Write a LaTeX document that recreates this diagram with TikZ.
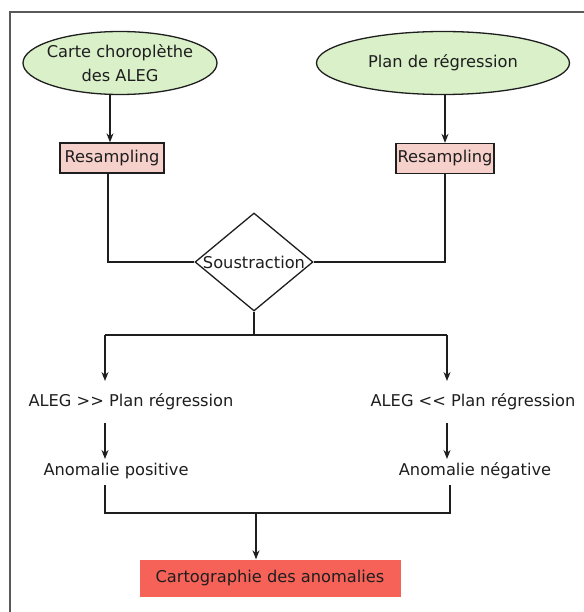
\documentclass[tikz,border=0pt]{standalone}
\usepackage{fontspec}
\setmainfont{DejaVu Sans}
\usetikzlibrary{shapes.geometric,arrows.meta}
\definecolor{ovalfill}{RGB}{218,240,200}
\definecolor{resfill}{RGB}{246,208,202}
\definecolor{finfill}{RGB}{246,98,88}
\definecolor{ink}{RGB}{30,30,30}
\begin{document}
\begin{tikzpicture}[x=1bp,y=-1bp,
  every node/.style={font=\fontsize{16.3}{24}\selectfont, text=ink},
  oval/.style={ellipse, draw=ink, line width=1.3bp, fill=ovalfill, inner sep=0pt},
  resbox/.style={rectangle, draw=ink, line width=1.3bp, fill=resfill, minimum width=104bp, minimum height=30bp, inner sep=0pt},
  dia/.style={diamond, draw=ink, line width=1.3bp, minimum width=118bp, minimum height=98bp, inner sep=0pt},
  plain/.style={inner sep=1bp},
  final/.style={rectangle, fill=finfill, draw=none, minimum width=261bp, minimum height=37bp, inner sep=0pt},
  conn/.style={draw=ink, line width=1.3bp},
  arr/.style={conn, -{Stealth[length=9bp,width=7bp]}}]
\useasboundingbox (0,0) rectangle (584,612);
\coordinate (fa) at (10,612);
\coordinate (fb) at (10,12);
\coordinate (fc) at (584,12);
\draw[black!65, line width=1.3bp] (fa) -- (fb) -- (fc);
\node[oval, minimum width=194bp, minimum height=63bp] (e1) at (120,63) {};
\node[align=center, inner sep=0pt] (t1) at (e1.center) {Carte choroplèthe\\des ALEG};
\node[oval, minimum width=253bp, minimum height=63bp] (e2) at (443,63) {};
\node[inner sep=0pt] (t2) at (e2.center) {Plan de régression};
\node[resbox] (r1) at (112,158) {Resampling};
\node[resbox, minimum width=98bp] (r2) at (445,158.5) {Resampling};
\node[dia] (d) at (254,262) {};
\node (ds) at (d.center) {Soustraction};
\node[plain] (a1) at (131,402) {ALEG >{}> Plan régression};
\node[plain] (a2) at (473,402) {ALEG <{}< Plan régression};
\node[plain] (p1) at (116,471) {Anomalie positive};
\node[plain] (p2) at (475,471) {Anomalie négative};
\node[final] (f) at (270,578) {Cartographie des anomalies};
\coordinate (h1) at (105,335);
\coordinate (h2) at (447,335);
\coordinate (b1) at (105,513);
\coordinate (b2) at (450,513);
\coordinate (bm) at (256,513);
\draw[arr] (e1.south -| 110,0) -- (r1.north -| 110,0);
\draw[arr] (e2.south -| 445,0) -- (r2.north -| 445,0);
\draw[conn] (r1.south -| 108,0) |- (d.west);
\draw[conn] (r2.south -| 445,0) |- (d.east);
\draw[conn] (d.south) -- (d.south |- h1);
\draw[conn] (h1) -- (h2);
\draw[arr] (h1) -- (h1 |- 0,381);
\draw[arr] (h2) -- (h2 |- 0,381);
\draw[arr] (h1 |- 0,423) -- (h1 |- 0,459);
\draw[arr] (h2 |- 0,423) -- (h2 |- 0,459);
\draw[conn] (b1 |- 0,485) -- (b1) -- (b2) -- (b2 |- 0,485);
\draw[arr] (bm) -- (f.north -| bm);
\end{tikzpicture}
\end{document}
